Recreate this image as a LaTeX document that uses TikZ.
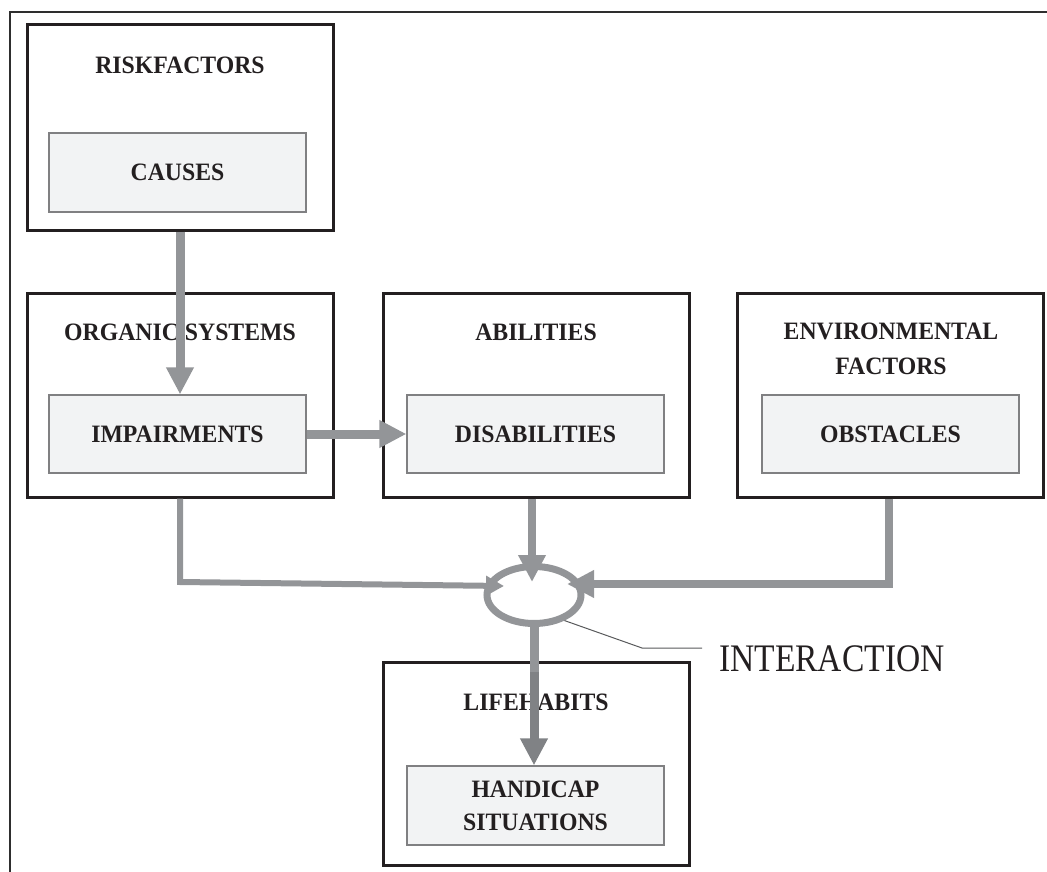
\documentclass[tikz,border=0pt]{standalone}
\usepackage{fontspec}
\setmainfont{Liberation Serif}
\newfontfamily\titlefont[FakeStretch=0.95]{Liberation Serif}
\newfontfamily\interfont[FakeStretch=0.86]{Liberation Serif}
\usetikzlibrary{arrows.meta,calc,shapes.geometric}
\definecolor{ink}{HTML}{231F20}
\definecolor{arrgray}{HTML}{939598}
\definecolor{arrdark}{HTML}{808285}
\definecolor{boxfill}{HTML}{F2F3F4}
\definecolor{boxedge}{HTML}{808082}
\definecolor{framec}{HTML}{2E2E2E}
\definecolor{leadc}{HTML}{58595B}
\begin{document}
\begin{tikzpicture}[x=1pt,y=-1pt,
  outerbox/.style={draw=ink,line width=3pt,inner sep=0pt,minimum width=306pt,minimum height=204pt},
  innerbox/.style={draw=boxedge,fill=boxfill,line width=1.2pt,inner sep=0pt,
    minimum width=257pt,minimum height=78pt,align=center,text=ink,
    font=\titlefont\bfseries\fontsize{25}{33}\selectfont},
  title/.style={font=\titlefont\bfseries\fontsize{25}{35}\selectfont,text=ink,inner sep=0pt,anchor=base},
  conn/.style={draw=arrgray,line width=9pt,line join=miter},
  tipbig/.style={-{Triangle[width=26pt,length=27pt]}},
  tipsmall/.style={-{Triangle[width=19pt,length=18pt]}},
  leader/.style={draw=leadc,line width=1pt}
]
\useasboundingbox (0,0) rectangle (1047,872);
% frame
\draw[framec,line width=2pt] (10,872) -- (10,12.5) -- (1047,12.5);

% outer boxes
\node[outerbox,minimum height=205pt] (risk) at (180,127.5) {};
\node[outerbox] (organ) at (180,395) {};
\node[outerbox] (abil) at (536,395) {};
\node[outerbox] (env) at (890,395) {};
\node[outerbox,minimum height=203pt] (life) at (536,763.5) {};

% titles
\node[title] (riskT) at (180,74) {RISKFACTORS};
\node[title] (organT) at (180,340) {ORGANIC SYSTEMS};
\node[title] (abilT) at (536,340) {ABILITIES};
\node[title] (envT1) at (891,339) {ENVIRONMENTAL};
\node[title] (envT2) at (891,374) {FACTORS};
\node[title] (lifeT) at (536,710) {LIFEHABITS};

% inner boxes
\node[innerbox,minimum height=79pt] (causes) at (177.5,172.5) {CAUSES};
\node[innerbox] (impair) at (177.5,434) {IMPAIRMENTS};
\node[innerbox] (disab) at (535.5,434) {DISABILITIES};
\node[innerbox] (obst) at (890.5,434) {OBSTACLES};
\node[innerbox,minimum height=79pt] (handi) at (535.5,805.5) {HANDICAP\\SITUATIONS};

% interaction ellipse
\node[ellipse,draw=arrgray,line width=7pt,inner sep=0pt,minimum width=94pt,minimum height=57pt] (inter) at (534,595) {};

% coordinates
\coordinate (lbend) at (180,582);
\coordinate (lintip) at (504,586);
\coordinate (mtip) at (532,582);
\coordinate (rbend) at (889,584);
\coordinate (rtip) at (567,584);
\coordinate (dchange) at (534,672);
\coordinate (ldbend) at (642,648);
\coordinate (ldend) at (702,648);

% connectors
\draw[conn,tipbig] (risk.south) -- (risk.south |- impair.north);
\draw[conn,tipbig] (impair.east) -- (disab.west);
\draw[conn,line width=6pt,tipsmall] (organ.south) -- (lbend) -- (lintip);
\draw[conn,line width=8pt,tipbig] (mtip |- abil.south) -- (mtip);
\draw[conn,line width=8pt,tipbig] (rbend |- env.south) -- (rbend) -- (rtip);
\draw[conn] (inter.south) -- (dchange);
\draw[conn,draw=arrdark,tipbig] (dchange) -- (dchange |- handi.north);

% leader and label
\draw[leader] (inter.-40) -- (ldbend) -- (ldend);
\node[font=\interfont\fontsize{39}{44}\selectfont,text=ink,anchor=base west,inner sep=0pt] (interlabel) at (719,671) {INTERACTION};
\end{tikzpicture}
\end{document}
